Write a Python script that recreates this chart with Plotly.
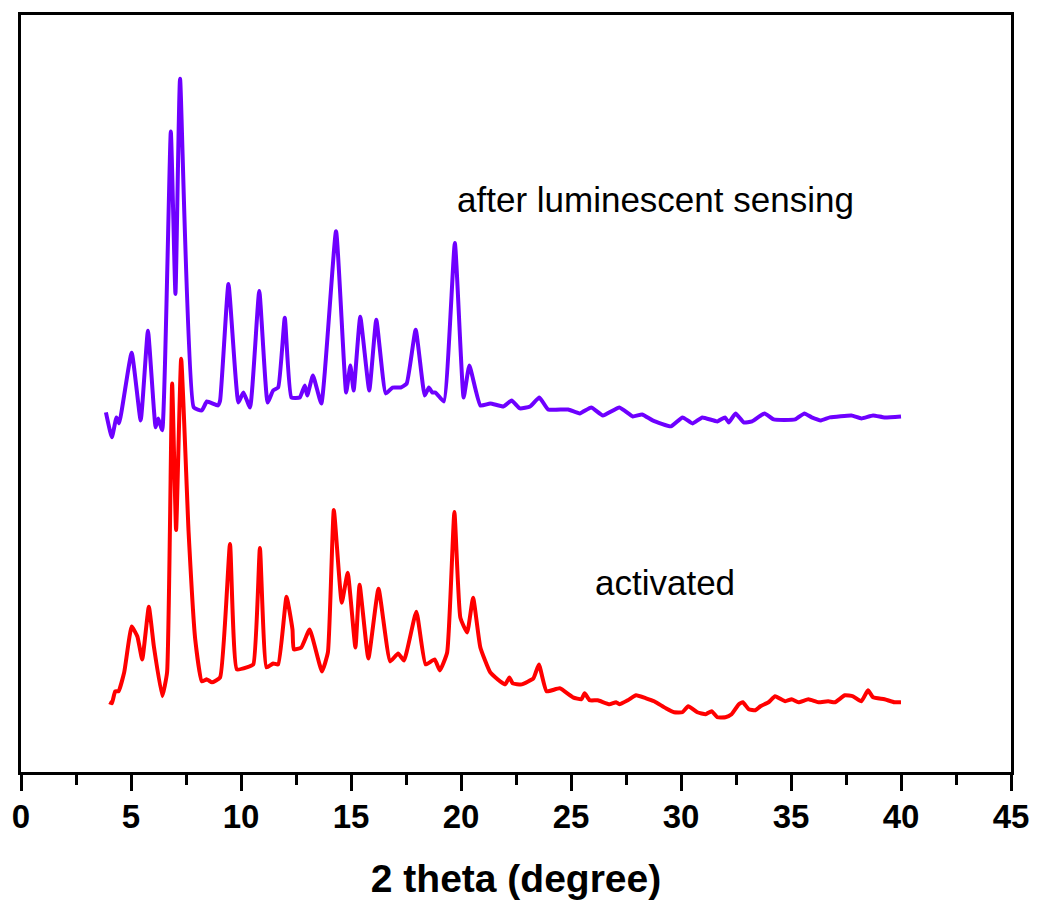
import plotly.graph_objects as go

# after luminescent sensing (purple)
after_x = [3.86, 4.13, 4.34, 4.46, 5.03, 5.44, 5.77, 6.12, 6.24, 6.42, 6.81, 7.02, 7.23, 7.85, 8.22, 8.45,
           8.95, 9.05, 9.43, 9.88, 10.11, 10.41, 10.83, 11.21, 11.46, 11.69, 11.99, 12.29, 12.67, 12.9,
           13.01, 13.27, 13.65, 14.32, 14.78, 14.97, 15.12, 15.42, 15.83, 16.15, 16.58, 16.89, 17.26,
           17.53, 17.94, 18.35, 18.54, 18.69, 18.84, 19.22, 19.72, 20.12, 20.38, 20.88, 21.33, 21.93,
           22.30, 22.68, 23.14, 23.56, 23.96, 24.87, 25.40, 25.92, 26.45, 27.20, 27.81, 28.23, 28.71,
           29.54, 30.07, 30.52, 30.97, 31.65, 32.0, 32.17, 32.48, 32.85, 33.23, 33.8, 34.21, 35.19,
           35.61, 35.94, 36.36, 36.77, 37.75, 38.2, 38.73, 39.25, 40.0]
after_y = [361, 336, 356, 350, 421, 353, 443, 346, 355, 343, 643, 480, 696, 366, 363, 372,
           368, 373, 490, 371, 381, 366, 483, 371, 383, 386, 456, 376, 376, 388,
           378, 398, 370, 543, 381, 408, 383, 457, 383, 454, 380, 386, 386,
           390, 444, 378, 386, 381, 381, 372, 531, 376, 408, 368, 370, 367,
           373, 365, 367, 376, 364, 364, 360, 366, 358, 366, 357, 359, 353,
           347, 356, 350, 356, 352, 356, 351, 360, 351, 352, 360, 354, 354,
           360, 356, 353, 356, 358, 355, 358, 356, 357]

# activated (red)
act_x = [4.01, 4.13, 4.28, 4.43, 4.69, 5.03, 5.29, 5.51, 5.81, 6.04, 6.42, 6.64, 6.87, 7.05, 7.28, 7.62,
         7.92, 8.22, 8.45, 8.68, 9.05, 9.50, 9.81, 10.26, 10.56, 10.86, 11.16, 11.46, 11.69, 12.07,
         12.34, 12.40, 12.74, 13.12, 13.68, 13.95, 14.22, 14.58, 14.85, 15.2, 15.39, 15.79, 16.25,
         16.78, 17.14, 17.41, 17.97, 18.39, 18.80, 19.04, 19.37, 19.70, 19.97, 20.28, 20.55, 20.88,
         21.33, 21.78, 22.01, 22.20, 22.35, 22.76, 23.29, 23.54, 23.89, 24.49, 25.09, 25.47, 25.62,
         25.85, 26.22, 26.75, 27.05, 27.2, 27.58, 27.96, 28.41, 28.78, 29.31, 29.69, 30.06, 30.33,
         30.74, 31.12, 31.39, 31.65, 32.02, 32.3, 32.63, 32.81, 33.08, 33.38, 33.61, 33.98, 34.28,
         34.74, 35.03, 35.34, 35.79, 36.24, 36.69, 37.0, 37.45, 37.82, 38.2, 38.5, 38.73, 39.25,
         39.7, 40.0]
act_y = [70, 69, 81, 81, 100, 146, 136, 113, 166, 126, 76, 100, 390, 243, 415, 240,
         133, 91, 93, 90, 95, 229, 103, 105, 108, 225, 105, 109, 108, 176,
         143, 123, 125, 143, 101, 120, 263, 170, 200, 125, 188, 114, 184,
         111, 119, 112, 161, 108, 113, 102, 120, 261, 155, 140, 175, 125,
         100, 91, 88, 95, 89, 88, 94, 108, 81, 84, 75, 73, 79,
         72, 72, 68, 70, 68, 72, 77, 74, 71, 64, 60, 60, 66,
         60, 58, 61, 55, 55, 58, 68, 70, 63, 62, 66, 70, 76,
         71, 73, 70, 73, 70, 71, 70, 77, 76, 71, 82, 75, 73,
         70, 70]

x_ticks = [0, 5, 10, 15, 20, 25, 30, 35, 40, 45]

fig = go.Figure()
fig.add_trace(go.Scatter(x=after_x, y=after_y, mode="lines",
                         line=dict(color="#6E00FF", width=4, shape="spline", smoothing=0.4),
                         name="after luminescent sensing", showlegend=False))
fig.add_trace(go.Scatter(x=act_x, y=act_y, mode="lines",
                         line=dict(color="#FF0000", width=4, shape="spline", smoothing=0.4),
                         name="activated", showlegend=False))

fig.add_annotation(x=28.83, y=575, text="after luminescent sensing", showarrow=False,
                   font=dict(family="Liberation Sans, Arial", size=35, color="black"),
                   xanchor="center", yanchor="middle")
fig.add_annotation(x=29.28, y=190, text="activated", showarrow=False,
                   font=dict(family="Liberation Sans, Arial", size=35, color="black"),
                   xanchor="center", yanchor="middle")

fig.update_layout(
    width=1041, height=906,
    margin=dict(l=18, r=27, t=13, b=133),
    paper_bgcolor="white", plot_bgcolor="white",
    font=dict(family="Liberation Sans, Arial", color="black"),
)
fig.update_xaxes(
    range=[0, 45], tickvals=x_ticks, ticktext=[f"<b>{v}</b>" for v in x_ticks],
    ticks="outside", ticklen=16, tickwidth=2.5, tickcolor="black",
    minor=dict(dtick=2.5, ticks="outside", ticklen=10, tickwidth=2.5, tickcolor="black"),
    tickfont=dict(size=33, family="Liberation Sans, Arial"),
    ticklabelstandoff=-3,
    showline=True, linecolor="black", linewidth=3, mirror=True,
    showgrid=False, zeroline=False,
    title=dict(text="<b>2 theta (degree)</b>", font=dict(size=39, family="Liberation Sans, Arial"), standoff=32),
)
fig.update_yaxes(
    range=[0, 760], showticklabels=False, ticks="",
    showline=True, linecolor="black", linewidth=3, mirror=True,
    showgrid=False, zeroline=False,
)

fig.write_html("out.html")
